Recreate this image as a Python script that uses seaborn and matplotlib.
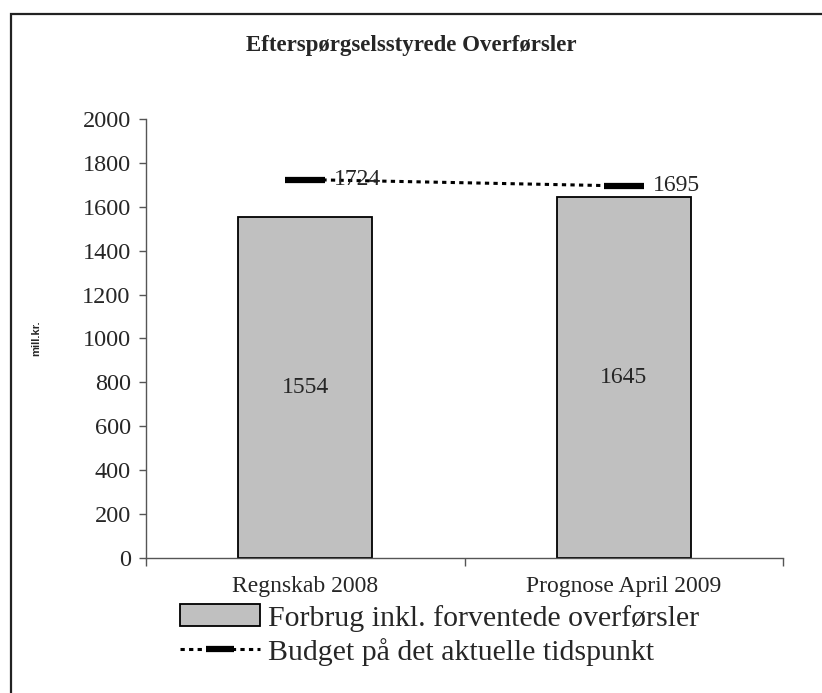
import matplotlib
matplotlib.use("Agg")
import matplotlib.pyplot as plt
import seaborn as sns
import pandas as pd
from matplotlib.patches import Patch, Rectangle
from matplotlib.lines import Line2D
from matplotlib.ticker import FixedLocator

categories = ["Regnskab 2008", "Prognose April 2009"]
forbrug = [1554, 1645]
budget = [1724, 1695]
yticks = [0, 200, 400, 600, 800, 1000, 1200, 1400, 1600, 1800, 2000]

sns.set_style("white")
plt.rcParams["font.family"] = ["Liberation Serif", "DejaVu Serif"]

df = pd.DataFrame({"kategori": categories, "forbrug": forbrug, "budget": budget})

fig = plt.figure(figsize=(8.22, 6.93), dpi=100)
ax = fig.add_axes([0.1776, 0.1948, 0.775, 0.6335])

sns.barplot(data=df, x="kategori", y="forbrug", color="#C0C0C0",
            edgecolor="black", linewidth=1.3, width=0.42, saturation=1, ax=ax)
ax.bar_label(ax.containers[0], label_type="center", fontsize=17)

sns.lineplot(data=df, x="kategori", y="budget", sort=False, color="black",
             linewidth=2.2, linestyle=(0, (1.4, 1.4)), marker="_",
             markersize=29, markeredgewidth=4.5, markeredgecolor="black",
             ax=ax)
for i, v in enumerate(budget):
    ax.annotate(str(v), (i, v), xytext=(21, 0), textcoords="offset points",
                ha="left", va="center", fontsize=17)

ax.set_ylim(0, 2000)
ax.set_xlim(-0.5, 1.5)
ax.set_yticks(yticks)
ax.tick_params(axis="y", labelsize=17.5, length=5, width=1, color="#555555",
               direction="out", left=True, pad=6)
ax.tick_params(axis="x", labelsize=17, length=0, pad=13)
ax.xaxis.set_minor_locator(FixedLocator([-0.5, 0.5, 1.5]))
ax.tick_params(axis="x", which="minor", length=6, width=1, color="#555555",
               direction="out", bottom=True)

for s in ["top", "right"]:
    ax.spines[s].set_visible(False)
for s in ["left", "bottom"]:
    ax.spines[s].set_color("#555555")
    ax.spines[s].set_linewidth(1)

ax.set_xlabel("")
ax.set_ylabel("mill.kr.", fontsize=8, fontweight="bold",
              family=["Liberation Sans", "DejaVu Sans"])
ax.yaxis.set_label_coords(-0.165, 0.5)

fig.text(0.5, 0.935, "Efterspørgselsstyrede Overførsler", ha="center",
         va="center", fontsize=16.5, fontweight="bold")

handles = [
    Patch(facecolor="#C0C0C0", edgecolor="black", linewidth=1.3),
    Line2D([0], [0], color="black", linewidth=2.2, linestyle=(0, (1.4, 1.4)),
           marker="_", markersize=20, markeredgewidth=4.5),
]
labels = ["Forbrug inkl. forventede overførsler",
          "Budget på det aktuelle tidspunkt"]
fig.legend(handles, labels, loc="upper left", bbox_to_anchor=(0.204, 0.145),
           frameon=False, fontsize=21.5, handlelength=2.7, handleheight=0.75,
           labelspacing=0.2, handletextpad=0.25, borderaxespad=0)

fig.patches.append(Rectangle((11 / 822, -0.1), 1.2, 0.98 + 0.1,
                             transform=fig.transFigure, fill=False,
                             edgecolor="#222222", linewidth=1.6))

fig.savefig("out.png", dpi=100)
